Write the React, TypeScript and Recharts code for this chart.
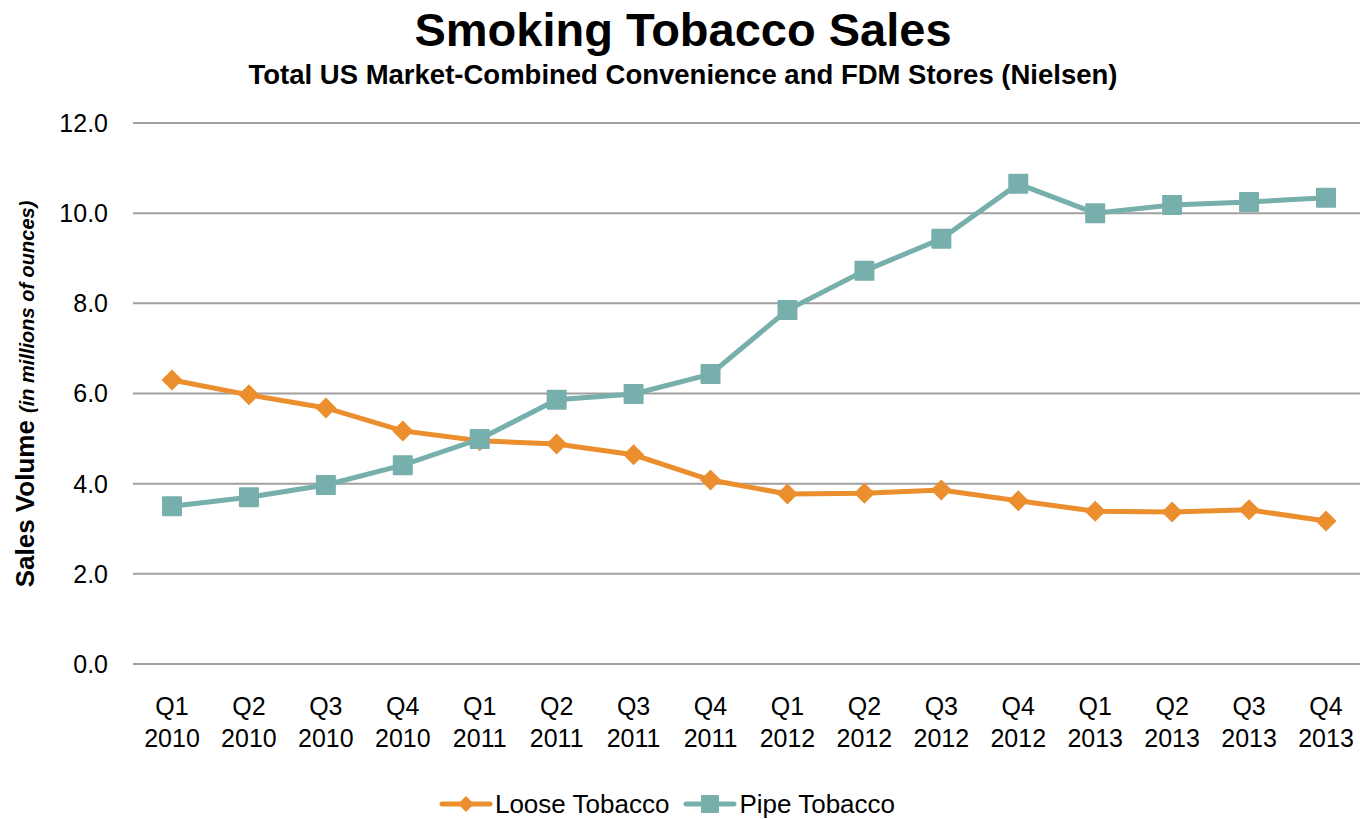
import React from 'react';
import { LineChart, Line, XAxis, YAxis, CartesianGrid, Legend } from 'recharts';

const quarters = ['Q1', 'Q2', 'Q3', 'Q4', 'Q1', 'Q2', 'Q3', 'Q4', 'Q1', 'Q2', 'Q3', 'Q4', 'Q1', 'Q2', 'Q3', 'Q4'];
const years = ['2010', '2010', '2010', '2010', '2011', '2011', '2011', '2011', '2012', '2012', '2012', '2012', '2013', '2013', '2013', '2013'];
const looseTobacco = [6.3, 5.97, 5.68, 5.17, 4.95, 4.88, 4.64, 4.08, 3.77, 3.79, 3.86, 3.62, 3.39, 3.37, 3.42, 3.17];
const pipeTobacco = [3.5, 3.7, 3.97, 4.41, 4.99, 5.86, 5.99, 6.43, 7.85, 8.72, 9.43, 10.65, 10.0, 10.18, 10.25, 10.34];
const yTicks = [0, 2, 4, 6, 8, 10, 12];

const ORANGE = '#EB8F2E';
const TEAL = '#77AFAD';
const FONT = '"Liberation Sans", Arial, sans-serif';

const data = quarters.map((q, i) => ({
  key: `${q} ${years[i]}`,
  q,
  year: years[i],
  loose: looseTobacco[i],
  pipe: pipeTobacco[i],
}));

const XTick = (props: any) => {
  const { x, y, payload } = props;
  const d = data[payload.index] || data.find((r) => r.key === payload.value);
  return (
    <text x={x} y={y} textAnchor="middle" fontFamily={FONT} fontSize={25} fill="#000">
      <tspan x={x} dy={43}>{d ? d.q : ''}</tspan>
      <tspan x={x} dy={32}>{d ? d.year : ''}</tspan>
    </text>
  );
};

const Diamond = (props: any) => {
  const { cx, cy } = props;
  if (cx == null || cy == null) return null;
  const r = 10.5;
  return <path d={`M${cx},${cy - r}L${cx + r},${cy}L${cx},${cy + r}L${cx - r},${cy}Z`} fill={ORANGE} />;
};

const Square = (props: any) => {
  const { cx, cy } = props;
  if (cx == null || cy == null) return null;
  const s = 10;
  return <rect x={cx - s} y={cy - s} width={2 * s} height={2 * s} fill={TEAL} rx={1} />;
};

const LegendContent = () => (
  <div style={{ height: 40, boxSizing: 'border-box', paddingTop: 10, paddingRight: 26, display: 'flex', justifyContent: 'center', alignItems: 'center', fontFamily: FONT, fontSize: 26, color: '#000' }}>
    <svg width={54} height={22} style={{ marginRight: 2 }}>
      <line x1={3} y1={11} x2={51} y2={11} stroke={ORANGE} strokeWidth={5} strokeLinecap="round" />
      <path d="M27,3L35,11L27,19L19,11Z" fill={ORANGE} />
    </svg>
    <span style={{ marginRight: 14 }}>Loose Tobacco</span>
    <svg width={54} height={22} style={{ marginRight: 2 }}>
      <line x1={3} y1={11} x2={51} y2={11} stroke={TEAL} strokeWidth={5} strokeLinecap="round" />
      <rect x={18} y={2} width={18} height={18} fill={TEAL} />
    </svg>
    <span>Pipe Tobacco</span>
  </div>
);

const YLabel = () => (
  <text transform="translate(34,394) rotate(-90)" textAnchor="middle" fontFamily={FONT} fill="#000">
    <tspan fontSize={26} fontWeight="bold">Sales Volume </tspan>
    <tspan fontSize={20} fontWeight="bold" fontStyle="italic">(in millions of ounces)</tspan>
  </text>
);

export default function App() {
  return (
    <div style={{ position: 'absolute', left: 0, top: 0, width: 1360, height: 819, background: '#fff' }}>
      <div style={{ position: 'absolute', left: 0, top: 2, width: 1366, textAlign: 'center', fontFamily: FONT, fontWeight: 'bold', fontSize: 47, color: '#000', whiteSpace: 'nowrap' }}>
        Smoking Tobacco Sales
      </div>
      <div style={{ position: 'absolute', left: 0, top: 59, width: 1366, textAlign: 'center', fontFamily: FONT, fontWeight: 'bold', fontSize: 27.5, color: '#000', whiteSpace: 'nowrap' }}>
        Total US Market-Combined Convenience and FDM Stores (Nielsen)
      </div>
      <LineChart width={1360} height={819} data={data} margin={{ top: 123, right: 0, left: 0, bottom: 0 }}>
        <CartesianGrid vertical={false} stroke="#A0A0A0" strokeWidth={2} />
        <XAxis dataKey="key" axisLine={false} tickLine={false} tick={<XTick />} interval={0} height={115} padding={{ left: 39, right: 34 }} />
        <YAxis
          domain={[0, 12]}
          ticks={yTicks}
          tickFormatter={(v: number) => v.toFixed(1)}
          axisLine={false}
          tickLine={false}
          width={133}
          tickMargin={19}
          tick={{ fontFamily: FONT, fontSize: 25, fill: '#000' }}
          label={<YLabel />}
        />
        <Legend verticalAlign="bottom" content={<LegendContent />} height={40} />
        <Line type="linear" dataKey="loose" name="Loose Tobacco" stroke={ORANGE} strokeWidth={5} dot={<Diamond />} activeDot={false} isAnimationActive={false} />
        <Line type="linear" dataKey="pipe" name="Pipe Tobacco" stroke={TEAL} strokeWidth={5} dot={<Square />} activeDot={false} isAnimationActive={false} />
      </LineChart>
    </div>
  );
}
